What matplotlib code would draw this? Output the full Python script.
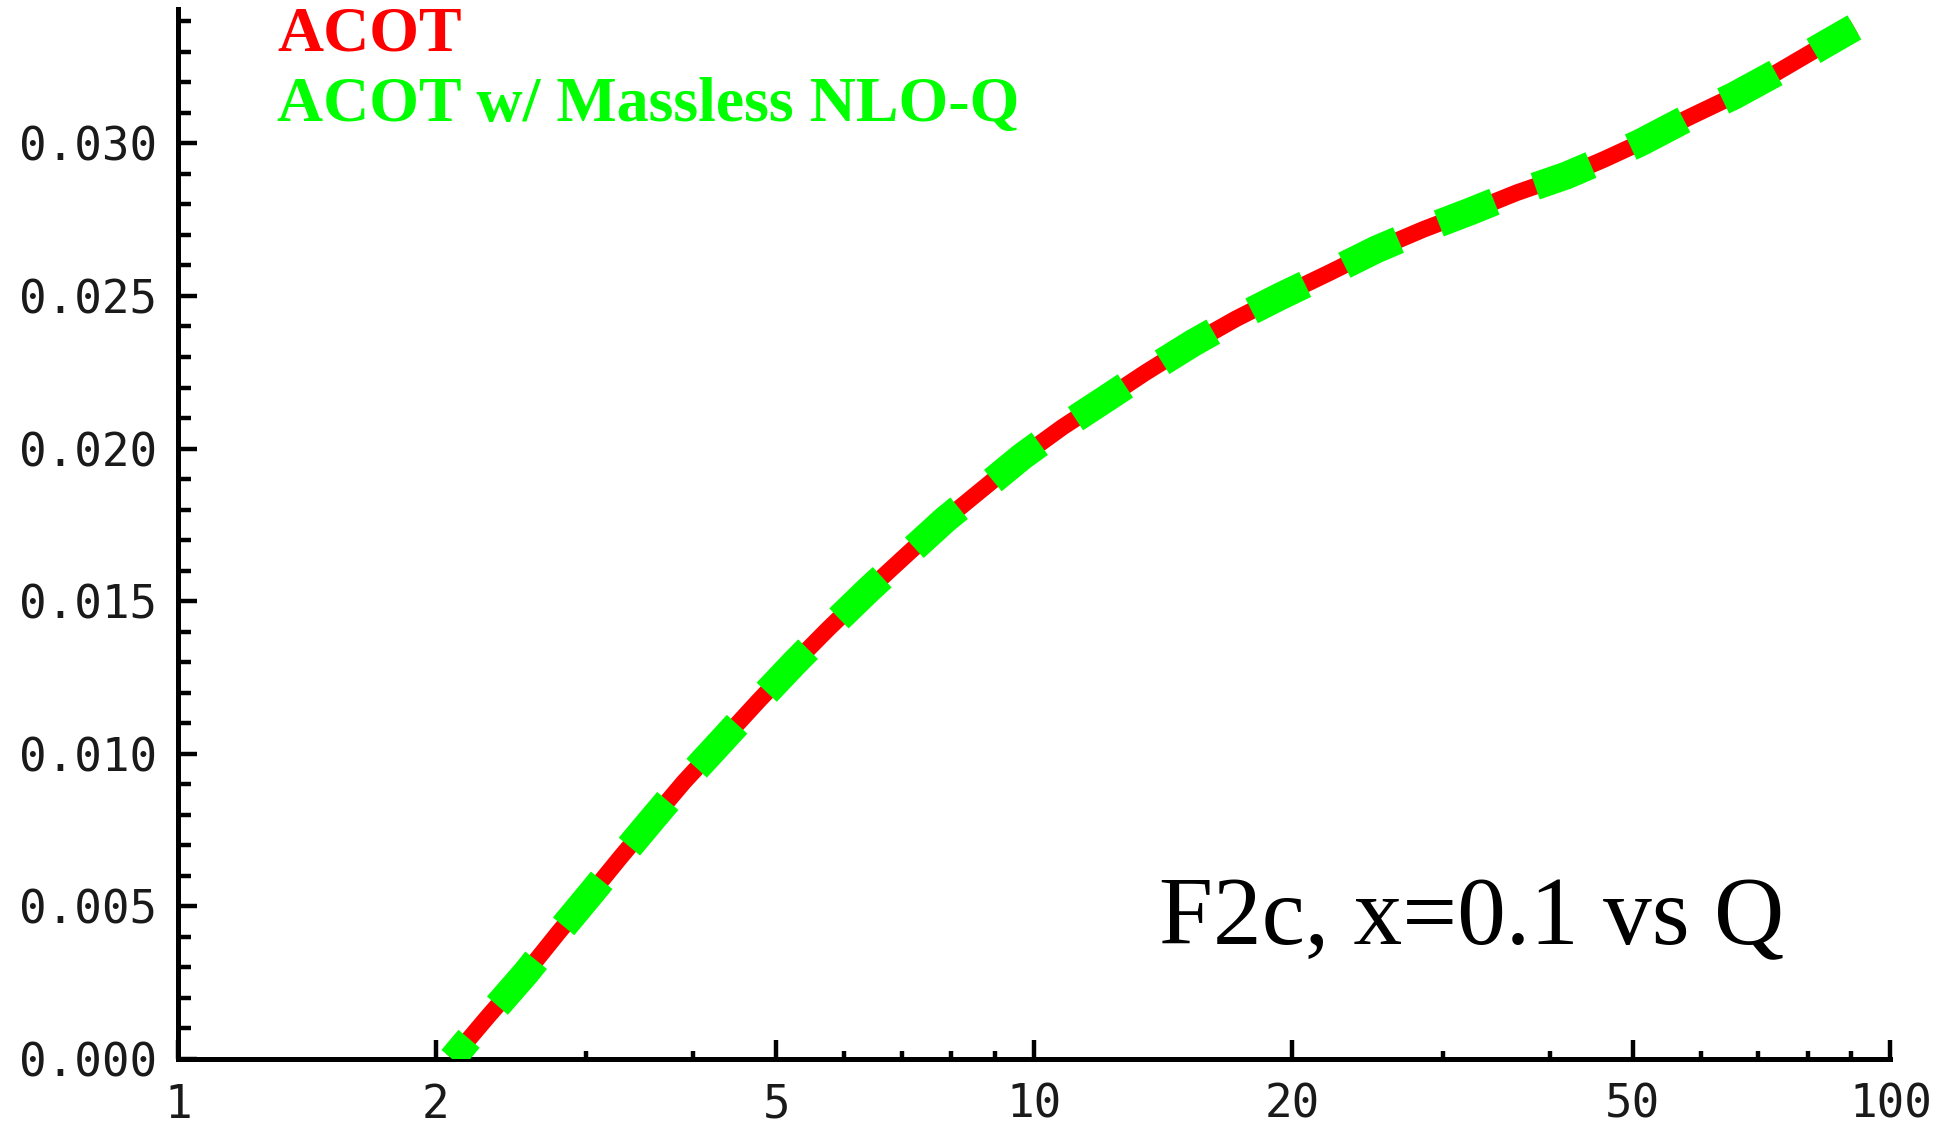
import matplotlib
matplotlib.use("Agg")
import matplotlib.pyplot as plt
from matplotlib.ticker import FixedLocator, NullFormatter, FixedFormatter

# F2c structure function at x = 0.1 as a function of Q (GeV)
q_values = [2.09, 2.30, 2.55, 2.78, 3.04, 3.29, 3.60, 3.90, 4.31, 4.76, 5.25,
            5.75, 6.41, 7.14, 7.87, 8.69, 9.68, 10.79, 12.11, 13.49, 15.31,
            17.20, 19.36, 22.15, 25.07, 28.47, 32.31, 36.58, 41.86, 46.25,
            51.1, 57.84, 65.67, 73.74, 83.06, 90.75]
f2c_acot = [0.0, 0.00138, 0.00282, 0.00413, 0.00544, 0.00662, 0.00793,
            0.00908, 0.01040, 0.01172, 0.01298, 0.01410, 0.01538, 0.01659,
            0.01767, 0.01866, 0.01974, 0.02070, 0.02162, 0.02249, 0.02345,
            0.02425, 0.02498, 0.02577, 0.02652, 0.02718, 0.02777, 0.02838,
            0.02895, 0.02947, 0.03003, 0.03082, 0.03156, 0.03233, 0.03318,
            0.0338]
f2c_massless = list(f2c_acot)

x_major = [1, 2, 5, 10, 20, 50, 100]
x_major_labels = ["1", "2", "5", "10", "20", "50", "100"]
x_minor = [3, 4, 6, 7, 8, 9, 30, 40, 60, 70, 80, 90]
y_major = [0.0, 0.005, 0.010, 0.015, 0.020, 0.025, 0.030]
y_major_labels = ["0.000", "0.005", "0.010", "0.015", "0.020", "0.025", "0.030"]
y_minor = [i * 0.001 for i in range(0, 35) if i % 5 != 0]

fig = plt.figure(figsize=(19.55, 11.35), dpi=100)
ax = fig.add_axes([0.091, 0.067, 0.876, 0.925])

ax.plot(q_values, f2c_acot, color="#ff0000", lw=12, solid_capstyle="butt",
        solid_joinstyle="round", zorder=2)
ax.plot(q_values, f2c_massless, color="#00ff00", lw=20, dash_capstyle="butt",
        dash_joinstyle="round", linestyle=(1.2, (2.15, 1.57)), zorder=3)

ax.set_xscale("log")
ax.set_xlim(1, 100)
ax.set_ylim(0, 0.0344)

ax.xaxis.set_major_locator(FixedLocator(x_major))
ax.xaxis.set_major_formatter(FixedFormatter(x_major_labels))
ax.xaxis.set_minor_locator(FixedLocator(x_minor))
ax.xaxis.set_minor_formatter(NullFormatter())
ax.yaxis.set_major_locator(FixedLocator(y_major))
ax.yaxis.set_major_formatter(FixedFormatter(y_major_labels))
ax.yaxis.set_minor_locator(FixedLocator(y_minor))

for side in ("top", "right"):
    ax.spines[side].set_visible(False)
for side in ("left", "bottom"):
    ax.spines[side].set_linewidth(3.6)

ax.tick_params(which="major", direction="in", length=13.5, width=3.2,
               labelsize=33, labelcolor="#1a1a1a", pad=15)
ax.tick_params(axis="y", which="minor", direction="in", length=9, width=3.2)
ax.tick_params(axis="x", which="minor", direction="in", length=6, width=3.2)
ax.tick_params(axis="x", which="major", pad=17)
for lab in ax.get_xticklabels() + ax.get_yticklabels():
    lab.set_fontfamily("DejaVu Sans Mono")

ax.text(0.058, 0.961, "ACOT", transform=ax.transAxes, color="#ff0000",
        fontsize=46, fontweight="bold", family="Liberation Serif", va="baseline")
ax.text(0.058, 0.893, "ACOT w/ Massless NLO-Q", transform=ax.transAxes,
        color="#00ff00", fontsize=46, fontweight="bold",
        family="Liberation Serif", va="baseline")
ax.text(0.573, 0.109, "F2c, x=0.1 vs Q", transform=ax.transAxes, color="black",
        fontsize=70, family="Liberation Serif", va="baseline")

fig.savefig("out.png", dpi=100)
